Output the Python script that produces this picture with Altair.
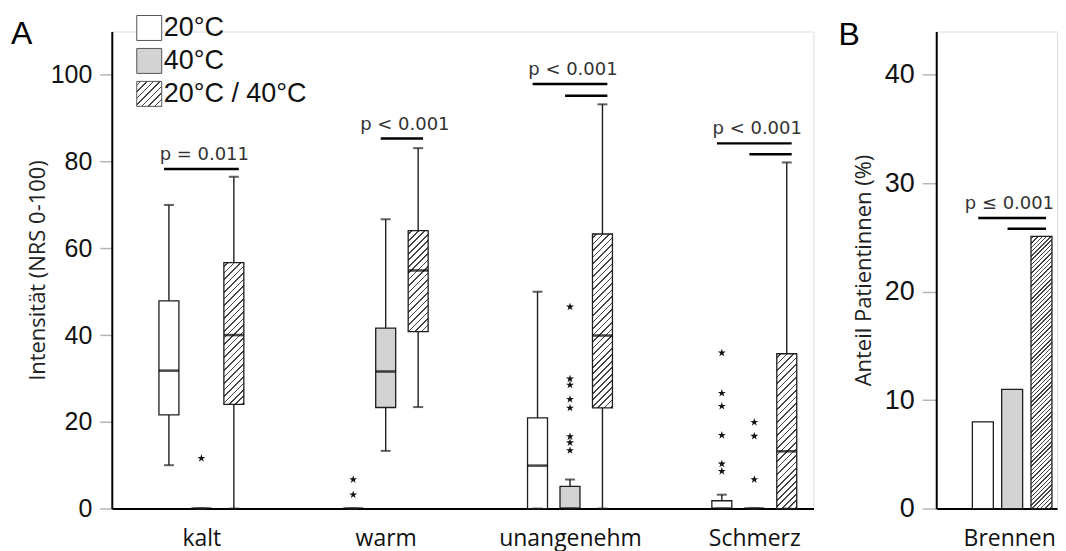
import altair as alt
import pandas as pd

# ---------------- data ----------------
GROUPS = ["kalt", "warm", "unangenehm", "Schmerz"]
TEMPS = ["20°C", "40°C", "20°C / 40°C"]

# box statistics per temperature condition, one value per group
MIN_20 = [10.0, 0.0, 0.0, 0.0]
Q1_20 = [21.6, 0.0, 0.0, 0.0]
MED_20 = [31.8, 0.0, 9.9, 0.0]
Q3_20 = [47.9, 0.0, 20.9, 1.8]
MAX_20 = [70.0, 0.0, 50.0, 3.2]

MIN_40 = [0.0, 13.3, 0.0, 0.0]
Q1_40 = [0.0, 23.3, 0.0, 0.0]
MED_40 = [0.0, 31.6, 0.0, 0.0]
Q3_40 = [0.0, 41.6, 5.1, 0.0]
MAX_40 = [0.0, 66.7, 6.7, 0.0]

MIN_2040 = [0.0, 23.4, 0.0, 0.0]
Q1_2040 = [24.0, 40.8, 23.2, 0.0]
MED_2040 = [40.0, 54.9, 39.9, 13.2]
Q3_2040 = [56.7, 64.1, 63.3, 35.7]
MAX_2040 = [76.5, 83.1, 93.2, 79.8]

# outliers
OUT_GROUP = ["kalt", "warm", "warm",
             "unangenehm", "unangenehm", "unangenehm", "unangenehm",
             "unangenehm", "unangenehm", "unangenehm", "unangenehm",
             "Schmerz", "Schmerz", "Schmerz", "Schmerz", "Schmerz", "Schmerz",
             "Schmerz", "Schmerz", "Schmerz"]
OUT_TEMP = ["40°C", "20°C", "20°C",
            "40°C", "40°C", "40°C", "40°C", "40°C", "40°C", "40°C", "40°C",
            "20°C", "20°C", "20°C", "20°C", "20°C", "20°C",
            "40°C", "40°C", "40°C"]
OUT_VALUE = [11.6, 6.7, 3.2,
             46.5, 29.9, 28.5, 25.2, 23.2, 16.6, 15.2, 13.4,
             35.9, 26.6, 23.6, 16.9, 10.3, 8.6,
             19.9, 16.7, 6.7]

# significance brackets (panel A)
SIG_GROUP = ["kalt", "warm", "unangenehm", "unangenehm", "Schmerz", "Schmerz"]
SIG_FROM = ["20°C", "40°C", "20°C", "40°C", "20°C", "40°C"]
SIG_TO = ["20°C / 40°C"] * 6
SIG_Y = [78.3, 85.3, 97.9, 95.2, 84.2, 81.7]
P_TEXT = ["p = 0.011", "p < 0.001", "p < 0.001", "p < 0.001"]

# panel B
B_CATEGORY = "Brennen"
B_VALUES = [8.0, 11.0, 25.1]
B_SIG_FROM = ["20°C", "40°C"]
B_SIG_Y = [26.8, 25.8]
B_P_TEXT = "p ≤ 0.001"

# ---------------- layout constants ----------------
H = 478
WA = 703
WB = 121
YMAX_A = 110
YMAX_B = 44
PXA = H / YMAX_A
PXB = H / YMAX_B
XA_DOM = [-0.459, 3.294]
STEP_A = WA / (XA_DOM[1] - XA_DOM[0])
OFF_A = 33 / STEP_A
PAD_A = 5 / STEP_A
XB_DOM = [-2.42, 1.36]
STEP_B = WB / (XB_DOM[1] - XB_DOM[0])
PAD_B = 5 / STEP_B
BOX_W = 20
BAR_W = 21
INK = "#1e1e1e"
GRAY = "#d3d3d3"
HATCH = TEMPS[2]

STAR = ("M0,-1L0.2245,-0.309L0.951,-0.309L0.363,0.118L0.588,0.809L0,0.382"
        "L-0.588,0.809L-0.363,0.118L-0.951,-0.309L-0.2245,-0.309Z")


def hatch(w, h, period, lw, dark="#444444", light="#ffffff"):
    L = w + h
    a = L / (w * w + h * h)
    stops = [{"offset": 0, "color": light}]
    pos = period / 2
    while pos < L:
        s = pos / L
        e = min((pos + lw) / L, 1)
        stops += [{"offset": round(s, 5), "color": light}, {"offset": round(s, 5), "color": dark},
                  {"offset": round(e, 5), "color": dark}, {"offset": round(e, 5), "color": light}]
        pos += period
    stops.append({"offset": 1, "color": light})
    return {"gradient": "linear", "x1": 0, "y1": 0,
            "x2": round(a * w, 5), "y2": round(a * h, 5), "stops": stops}


def js(o):
    if isinstance(o, dict):
        return "{" + ",".join(f"{k}:{js(v)}" for k, v in o.items()) + "}"
    if isinstance(o, list):
        return "[" + ",".join(js(v) for v in o) + "]"
    if isinstance(o, str):
        return "'" + o + "'"
    return repr(round(o, 5)) if isinstance(o, float) else str(o)


LEGEND_GRAD = hatch(25, 25, 6.5, 1.6)

# ---------------- tables ----------------
STATS = {
    TEMPS[0]: (MIN_20, Q1_20, MED_20, Q3_20, MAX_20),
    TEMPS[1]: (MIN_40, Q1_40, MED_40, Q3_40, MAX_40),
    TEMPS[2]: (MIN_2040, Q1_2040, MED_2040, Q3_2040, MAX_2040),
}
rows = []
for gi, g in enumerate(GROUPS):
    for ti, t in enumerate(TEMPS):
        mn, q1, md, q3, mx = (s[gi] for s in STATS[t])
        rows.append(dict(group=g, temp=t, x=gi + (ti - 1) * OFF_A,
                         mn=mn, q1=q1, md=md, q3=q3, mx=mx))
box = pd.DataFrame(rows)


def xpos(g, t):
    return GROUPS.index(g) + (TEMPS.index(t) - 1) * OFF_A


out = pd.DataFrame({"x": [xpos(g, t) for g, t in zip(OUT_GROUP, OUT_TEMP)],
                    "v": OUT_VALUE})

sig = pd.DataFrame({
    "x1": [xpos(g, f) - PAD_A for g, f in zip(SIG_GROUP, SIG_FROM)],
    "x2": [xpos(g, t) + PAD_A for g, t in zip(SIG_GROUP, SIG_TO)],
    "y": SIG_Y, "group": SIG_GROUP})
ptab = sig.groupby("group").agg(x1=("x1", "min"), x2=("x2", "max"), y=("y", "max")).reindex(GROUPS).reset_index()
ptab["xm"] = (ptab["x1"] + ptab["x2"]) / 2 + 3 / STEP_A
ptab["label"] = P_TEXT

# ---------------- panel A ----------------
def xa(field):
    return alt.X(field + ":Q", scale=alt.Scale(domain=XA_DOM, nice=False, zero=False),
                 axis=alt.Axis(values=[0, 1, 2, 3], ticks=False, grid=False,
                               labelExpr="[" + ",".join("'" + g + "'" for g in GROUPS) + "][datum.value]",
                               labelFont="Open Sans", labelFontSize=23, labelColor="#111",
                               labelPadding=19, domainColor="#000", domainWidth=2, title=None))


def ya(field):
    return alt.Y(field + ":Q", scale=alt.Scale(domain=[0, YMAX_A], nice=False),
                 axis=alt.Axis(values=[0, 20, 40, 60, 80, 100], grid=False,
                               tickColor="#b5b5b5", tickWidth=1.5, tickSize=12,
                               labelFont="Liberation Sans", labelFontSize=25, labelColor="#111",
                               labelPadding=8, domainColor="#000", domainWidth=2,
                               title="Intensität (NRS 0-100)", titleFont="Open Sans",
                               titleFontSize=22, titleFontWeight="normal", titleColor="#222",
                               titlePadding=1))


FILL_SCALE = alt.Scale(domain=TEMPS, range=["#ffffff", GRAY, alt.ExprRef(expr=js(LEGEND_GRAD))])
LEGEND = alt.Legend(title=None, orient="none", legendX=24, legendY=-17, direction="vertical",
                    symbolType="square", symbolSize=625, symbolStrokeColor="#555",
                    symbolStrokeWidth=1, labelFont="Liberation Sans", labelFontSize=27,
                    labelColor="#111", labelOffset=1, rowPadding=4, padding=0)

base = alt.Chart(box)
whisk = base.mark_rule(color=INK, strokeWidth=1.4).encode(x=xa("x"), y=ya("mn"), y2="mx")
boxes = base.transform_filter(alt.datum.temp != HATCH).mark_bar(
    size=BOX_W, stroke=INK, strokeWidth=1.3).encode(
    x=xa("x"), y=ya("q1"), y2="q3",
    fill=alt.Fill("temp:N", scale=FILL_SCALE, legend=LEGEND))

hatch_layers = []
for gi, g in enumerate(GROUPS):
    hpx = (Q3_2040[gi] - Q1_2040[gi]) * PXA
    grad = hatch(BOX_W, hpx, 6.5, 1.6)
    hatch_layers.append(
        base.transform_filter((alt.datum.group == g) & (alt.datum.temp == HATCH))
        .mark_bar(size=BOX_W, stroke=INK, strokeWidth=1.3, fill=grad)
        .encode(x=xa("x"), y=ya("q1"), y2="q3"))

med = base.mark_tick(orient="horizontal", size=BOX_W, thickness=2.6, color="#000").encode(x=xa("x"), y=ya("md"))
cap_lo = base.mark_tick(orient="horizontal", size=10, thickness=2, color=INK).encode(x=xa("x"), y=ya("mn"))
cap_hi = base.mark_tick(orient="horizontal", size=10, thickness=2, color=INK).encode(x=xa("x"), y=ya("mx"))
stars = alt.Chart(out).mark_point(shape=STAR, size=70, filled=True, color="#111",
                                  opacity=1, strokeWidth=0).encode(x=xa("x"), y=ya("v"))
brackets = alt.Chart(sig).mark_rule(color="#000", strokeWidth=2.5).encode(
    x=xa("x1"), x2="x2", y=ya("y"))
ptext = alt.Chart(ptab).mark_text(font="DejaVu Sans", fontSize=18, color="#333",
                                  baseline="alphabetic", dy=-9).encode(
    x=xa("xm"), y=ya("y"), text="label:N")
labA = alt.Chart(pd.DataFrame({"t": ["A"]})).mark_text(
    font="Liberation Sans", fontSize=32, align="left", baseline="alphabetic", color="#000"
).encode(x=alt.value(-101), y=alt.value(13), text="t:N")

panelA = alt.layer(whisk, boxes, *hatch_layers, med, cap_lo, cap_hi, stars,
                   brackets, ptext, labA).properties(width=WA, height=H)

# ---------------- panel B ----------------
bdf = pd.DataFrame({"temp": TEMPS, "x": [-1, 0, 1], "v": B_VALUES})


def xb(field):
    return alt.X(field + ":Q", scale=alt.Scale(domain=XB_DOM, nice=False, zero=False),
                 axis=alt.Axis(values=[0], ticks=False, grid=False,
                               labelExpr="'" + B_CATEGORY + "'", labelOffset=-3,
                               labelFont="Open Sans", labelFontSize=23, labelColor="#111",
                               labelPadding=19, domainColor="#000", domainWidth=2, title=None))


def yb(field):
    return alt.Y(field + ":Q", scale=alt.Scale(domain=[0, YMAX_B], nice=False),
                 axis=alt.Axis(values=[0, 10, 20, 30, 40], grid=False,
                               tickColor="#b5b5b5", tickWidth=1.5, tickSize=14,
                               labelFont="Liberation Sans", labelFontSize=27, labelColor="#111",
                               labelPadding=8, domainColor="#000", domainWidth=2,
                               title="Anteil Patientinnen (%)", titleFont="Open Sans",
                               titleFontSize=22, titleFontWeight="normal", titleColor="#222",
                               titlePadding=9))


bbase = alt.Chart(bdf)
bbars = bbase.transform_filter(alt.datum.temp != HATCH).mark_bar(
    size=BAR_W, stroke=INK, strokeWidth=1.3).encode(
    x=xb("x"), y=yb("v"), y2=alt.Y2(datum=0),
    fill=alt.Fill("temp:N", scale=alt.Scale(domain=TEMPS[:2], range=["#ffffff", GRAY]), legend=None))
bh = bbase.transform_filter(alt.datum.temp == HATCH).mark_bar(
    size=BAR_W, stroke=INK, strokeWidth=1.3,
    fill=hatch(BAR_W, B_VALUES[2] * PXB, 4.3, 1.4)).encode(x=xb("x"), y=yb("v"), y2=alt.Y2(datum=0))

bsig = pd.DataFrame({
    "x1": [TEMPS.index(f) - 1 - PAD_B for f in B_SIG_FROM],
    "x2": [1 + PAD_B] * len(B_SIG_FROM),
    "y": B_SIG_Y})
bbr = alt.Chart(bsig).mark_rule(color="#000", strokeWidth=2.5).encode(
    x=xb("x1"), x2="x2", y=yb("y"))
bpt = pd.DataFrame({"xm": [(bsig["x1"].min() + bsig["x2"].max()) / 2 - 3 / STEP_B],
                    "y": [max(B_SIG_Y)], "label": [B_P_TEXT]})
bptext = alt.Chart(bpt).mark_text(font="DejaVu Sans", fontSize=18, color="#333",
                                  baseline="alphabetic", dy=-9).encode(
    x=xb("xm"), y=yb("y"), text="label:N")
labB = alt.Chart(pd.DataFrame({"t": ["B"]})).mark_text(
    font="Liberation Sans", fontSize=32, align="left", baseline="alphabetic", color="#000"
).encode(x=alt.value(-98), y=alt.value(14), text="t:N")

panelB = alt.layer(bbars, bh, bbr, bptext, labB).properties(width=WB, height=H)

chart = alt.hconcat(panelA, panelB, spacing=123, bounds="flush").resolve_scale(
    fill="independent").properties(
    padding={"left": 2, "top": 5, "right": 0, "bottom": 0}
).configure_view(strokeOpacity=0).configure(background="white")

chart.save("out.html", embed_options={"renderer": "svg", "actions": False})
